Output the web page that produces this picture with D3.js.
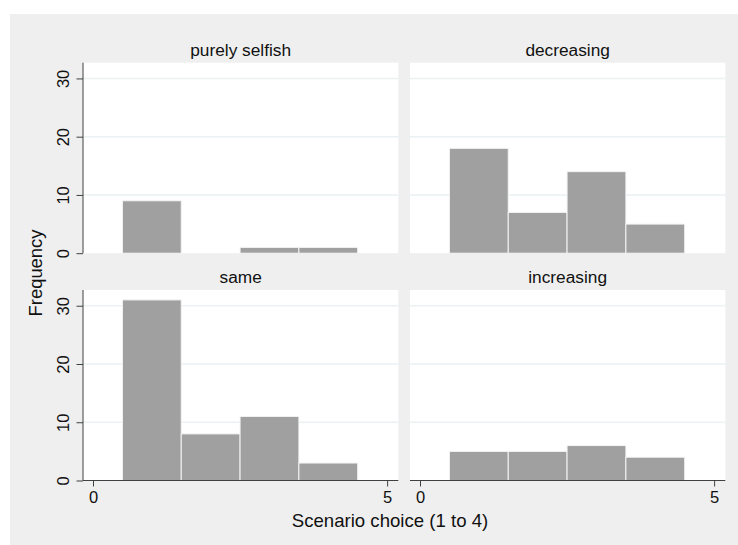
<!DOCTYPE html>
<html>
<head>
<meta charset="utf-8">
<script src="https://cdn.jsdelivr.net/npm/d3@7"></script>
<style>
  body { margin: 0; background: white; }
  svg { display: block; font-family: "Liberation Sans", Arial, sans-serif; }
</style>
</head>
<body>
<svg id="chart" width="738" height="545"></svg>
<script>
// panel names and bin frequencies (scenario choice 1..4)
var panels = ['purely selfish', 'decreasing', 'same', 'increasing'];
var choices = [1, 2, 3, 4];
var freqSelfish = [9, 0, 1, 1];
var freqDecreasing = [18, 7, 14, 5];
var freqSame = [31, 8, 11, 3];
var freqIncreasing = [5, 5, 6, 4];
var yTicks = [0, 10, 20, 30];
var xTicks = [0, 5];

var series = [freqSelfish, freqDecreasing, freqSame, freqIncreasing];

const svg = d3.select('#chart');

// outer gray region
svg.append('rect')
    .attr('x', 10).attr('y', 14)
    .attr('width', 728).attr('height', 531)
    .attr('fill', '#efefef');

// panel geometry
const colX = [83, 410];
const rowY = [62.7, 290];
const panelW = 315.3;
const panelH = 190.5;

const gridColor = '#eaf2f3';
const axisColor = '#404040';
const barColor = '#a0a0a0';
const textColor = '#111';

panels.forEach(function(name, i) {
    const col = i % 2, row = Math.floor(i / 2);
    const g = svg.append('g')
        .attr('transform', 'translate(' + colX[col] + ',' + rowY[row] + ')');

    const x = d3.scaleLinear().domain([-0.17, 5.19]).range([0, panelW]);
    const y = d3.scaleLinear().domain([0, 32.7]).range([panelH, 0]);

    // plot region
    g.append('rect')
        .attr('width', panelW).attr('height', panelH)
        .attr('fill', 'white');

    // gridlines
    g.selectAll('.grid')
        .data(yTicks.filter(d => d > 0))
        .join('line')
        .attr('x1', 0).attr('x2', panelW)
        .attr('y1', d => y(d)).attr('y2', d => y(d))
        .attr('stroke', gridColor)
        .attr('stroke-width', 1.5);

    // bars
    g.selectAll('.bar')
        .data(series[i].map((v, k) => ({c: choices[k], v: v})))
        .join('rect')
        .attr('x', d => x(d.c - 0.5))
        .attr('width', d => x(d.c + 0.5) - x(d.c - 0.5))
        .attr('y', d => y(d.v))
        .attr('height', d => y(0) - y(d.v))
        .attr('fill', barColor)
        .attr('stroke', '#f4f4f4')
        .attr('stroke-width', 1);

    // panel title
    svg.append('text')
        .attr('x', colX[col] + panelW / 2)
        .attr('y', rowY[row] - 7)
        .attr('text-anchor', 'middle')
        .attr('font-size', 17.3)
        .attr('fill', textColor)
        .text(name);

    // y axis on left column
    if (col == 0) {
        const yAxis = g.append('g')
            .call(d3.axisLeft(y).tickValues(yTicks).tickSize(6.5));
        yAxis.select('.domain').attr('stroke', axisColor).attr('d', 'M0,0V' + panelH);
        yAxis.selectAll('.tick line').attr('stroke', axisColor);
        yAxis.selectAll('.tick text')
            .attr('font-size', 16.5)
            .attr('font-family', '"Liberation Sans", Arial, sans-serif')
            .attr('fill', textColor)
            .attr('transform', 'rotate(-90)')
            .attr('text-anchor', 'middle')
            .attr('x', 0)
            .attr('y', -14)
            .attr('dy', 0);
    }

    // x axis on bottom row
    if (row == 1) {
        const xAxis = g.append('g')
            .attr('transform', 'translate(0,' + panelH + ')')
            .call(d3.axisBottom(x).tickValues(xTicks).tickFormat(d3.format('d')).tickSize(6));
        xAxis.select('.domain').attr('stroke', axisColor).attr('d', 'M0,0H' + panelW);
        xAxis.selectAll('.tick line').attr('stroke', axisColor);
        xAxis.selectAll('.tick text')
            .attr('font-size', 16.5)
            .attr('font-family', '"Liberation Sans", Arial, sans-serif')
            .attr('fill', textColor)
            .attr('y', 22)
            .attr('dy', 0);
    }
});

// axis titles
svg.append('text')
    .attr('transform', 'translate(42,273) rotate(-90)')
    .attr('text-anchor', 'middle')
    .attr('font-size', 18.4)
    .attr('fill', textColor)
    .text('Frequency');

svg.append('text')
    .attr('x', 390)
    .attr('y', 527)
    .attr('text-anchor', 'middle')
    .attr('font-size', 18.6)
    .attr('fill', textColor)
    .text('Scenario choice (1 to 4)');
</script>
</body>
</html>
